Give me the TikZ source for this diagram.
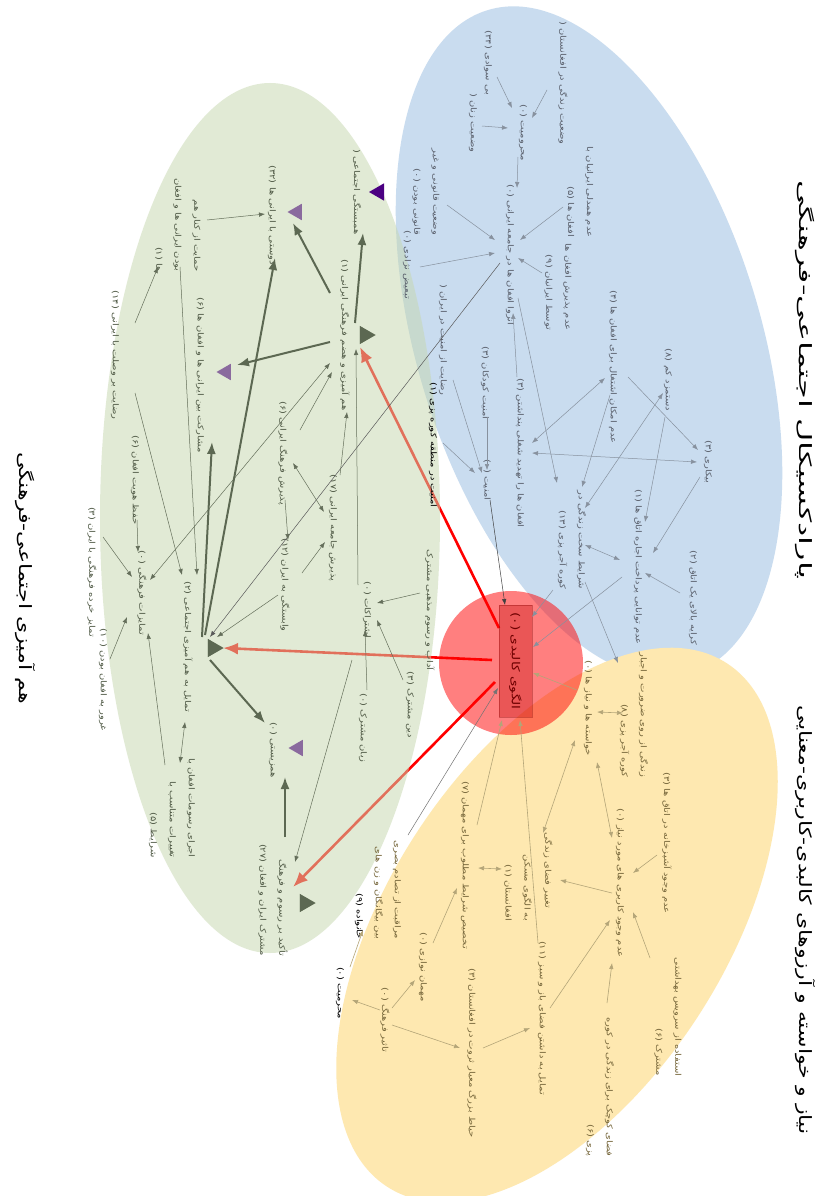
\documentclass[tikz,border=0pt]{standalone}
\usepackage{fontspec}
\newfontfamily\fa[Script=Arabic,FakeStretch=1.25]{DejaVu Sans}
\newfontfamily\fat[Script=Arabic,FakeStretch=1.3]{DejaVu Sans}
\TeXXeTstate=1
\usetikzlibrary{arrows.meta,calc,shapes.geometric}
\newcommand{\RTx}[1]{\beginR #1\endR}
\definecolor{bluefill}{RGB}{201,220,239}
\definecolor{yelfill}{RGB}{254,232,176}
\definecolor{grnfill}{RGB}{199,216,176}
\definecolor{btxt}{RGB}{90,96,108}
\definecolor{gtxt}{RGB}{80,90,70}
\definecolor{ytxt}{RGB}{118,102,58}
\definecolor{barr}{RGB}{135,145,158}
\definecolor{garr}{RGB}{100,110,90}
\definecolor{yarr}{RGB}{180,165,120}
\definecolor{thickc}{RGB}{92,104,82}
\definecolor{purp}{RGB}{138,106,158}
\definecolor{indig}{RGB}{75,0,130}
\definecolor{coretxt}{RGB}{110,0,0}
\tikzset{
 lbl/.style={rotate=-90, align=right, inner sep=1pt, font=\fa\fontsize{8}{19}\selectfont},
 tb/.style={lbl, text=btxt},
 tg/.style={lbl, text=gtxt},
 ty/.style={lbl, text=ytxt},
 tk/.style={lbl, text=black},
 ttl/.style={rotate=-90, inner sep=0pt, font=\fat\fontsize{17}{20}\selectfont, text=black},
 tipS/.style={-{Latex[length=6pt,width=4.5pt]}},
 tipD/.style={{Latex[length=6pt,width=4.5pt]}-{Latex[length=6pt,width=4.5pt]}},
 ab/.style={draw=barr, line width=0.5pt, tipS},
 abb/.style={draw=barr, line width=0.5pt, tipD},
 ag/.style={draw=garr, line width=0.5pt, tipS},
 agg/.style={draw=garr, line width=0.5pt, tipD},
 ay/.style={draw=yarr, line width=0.6pt, tipS},
 ayy/.style={draw=yarr, line width=0.6pt, tipD},
 ak/.style={draw=black!75, line width=0.5pt, tipS},
 thk/.style={draw=thickc, line width=2pt, -{Latex[length=12pt,width=9pt]}},
 redarr/.style={draw=red, line width=2.6pt, -{Latex[length=15pt,width=12pt]}},
 trg/.style={regular polygon, regular polygon sides=3, minimum size=21pt, inner sep=0pt, fill=thickc, rotate=-90},
 trp/.style={regular polygon, regular polygon sides=3, minimum size=19pt, inner sep=0pt, fill=purp, rotate=90},
}
\begin{document}
\begin{tikzpicture}[x=1pt,y=-1pt]
\useasboundingbox (0,0) rectangle (829,1196);
\fill[white] (0,0) rectangle (829,1196);
% regions
\fill[bluefill, rotate around={17:(589,342)}] (589,342) ellipse [x radius=172, y radius=347];
\fill[yelfill, rotate around={-33:(557,925)}] (557,925) ellipse [x radius=168, y radius=312];
% core
\coordinate (cc) at (511,663);
\node[minimum width=112pt, minimum height=33pt, inner sep=0pt, rotate=-90] (core) at (515.5,661) {};
% triangles
\node[trg] (g4t) at (365,335) {};
\node[trg] (g9t) at (213,648) {};
\node[trg] (g18t) at (305,903) {};
% red arrows (under green)
\draw[redarr] ($(core)+(-16.5,-33)$) -- ($(g4t)+(-5,12)$);
\draw[redarr] ($(core)+(-23.5,-1)$) -- ($(g9t)+(10,0)$);
\draw[redarr] ($(core)+(-20.5,21)$) -- ($(g18t)+(-12,-16)$);
\fill[grnfill, fill opacity=0.52] (270,518) ellipse [x radius=170, y radius=435];
\fill[red, fill opacity=0.5] (cc) circle [radius=72];
\node[draw=red!50!black, draw opacity=0.35, fill=red!75!black, fill opacity=0.32, minimum width=112pt, minimum height=33pt, inner sep=0pt, rotate=-90] at (core) {};
\node[rotate=-90, inner sep=0pt, text=coretxt, font=\fa\fontsize{11}{13}\selectfont] at (core) {\RTx{الگوی کالبدی (۰)}};
% redraw triangles over green
\node[trg] at (g4t) {};
\node[trg] at (g9t) {};
\node[trg] at (g18t) {};
\node[trp] (g2t) at (297,212) {};
\node[trp] (g5t) at (226,372) {};
\node[trp] (g17t) at (298,748) {};
\node[regular polygon, regular polygon sides=3, minimum size=20pt, inner sep=0pt, fill=indig, rotate=90] (g1t) at (379,192) {};
% titles
\node[ttl] (T1) at (805,380) {\scalebox{1.45}[1]{\RTx{پارادکسیکال اجتماعی-فرهنگی}}};
\node[ttl] (T2) at (805,920) {\RTx{نیاز و خواسته و آرزوهای کالبدی-کاربری-معنایی}};
\node[ttl] (T3) at (25,578) {\RTx{هم آمیزی اجتماعی-فرهنگی}};
% blue nodes
\node[tb] (b1) at (563,83) {\RTx{وضعیت زندگی در افغانستان (}};
\node[tb] (b2) at (488,63) {\RTx{بی سوادی (۳۴)}};
\node[tb] (b3) at (473,123) {\RTx{وضعیت زنان (}};
\node[tb] (b4) at (523,133) {\RTx{محرومیت (۰)}};
\node[tb] (b5) at (510,255) {\RTx{انزوا افغان ها در جامعه ایرانی (۰)}};
\node[tb] (b6) at (580,192) {\RTx{عدم همدلی ایرانیان با}\\\RTx{افغان ها (۵)}};
\node[tb] (b7) at (426,192) {\RTx{وضعیت قانونی و غیر}\\\RTx{قانونی بودن (۰)}};
\node[tb] (b8) at (407,265) {\RTx{تبعیض نژادی (۰)}};
\node[tb] (b9) at (558,287) {\RTx{عدم پذیرش افغان ها}\\\RTx{توسط ایرانیان (۹)}};
\node[tb] (b10) at (443,340) {\RTx{رضایت از امنیت در ایران (}};
\node[tb] (b11) at (485,383) {\RTx{امنیت کودکان (۳)}};
\node[tk] (b12) at (433,445) {\RTx{امنیت در منطقه کوره پزی (۱)}};
\node[tb] (b13) at (487,480) {\RTx{امنیت (۰)}};
\node[tb] (b14) at (520,453) {\RTx{افغان ها را تهدید شغلی پنداشتن (۳)}};
\node[tb] (b15) at (572,540) {\RTx{شرایط سخت زندگی در}\\\RTx{کوره آجر پزی (۱۳)}};
\node[tb] (b16) at (613,367) {\RTx{عدم امکان اشتغال برای افغان ها (۴)}};
\node[tb] (b17) at (668,380) {\RTx{دستمزد کم (۸)}};
\node[tb] (b18) at (708,462) {\RTx{بیکاری (۳)}};
\node[tb] (b19) at (638,567) {\RTx{عدم توانایی پرداخت اجاره اتاق ها (۱)}};
\node[tb] (b20) at (693,598) {\RTx{کرایه بالای یک اتاق (۲)}};
% yellow nodes
\node[ty] (y1) at (588,708) {\RTx{خواسته ها و نیاز ها (۰)}};
\node[ty] (y2) at (634,715) {\RTx{زندگی از روی ضرورت و اجبار}\\\RTx{کوره آجر پزی (۸)}};
\node[ty] (y3) at (620,883) {\RTx{عدم وجود کاربری های مورد نیاز (۰)}};
\node[ty] (y4) at (667,843) {\RTx{عدم وجود آشپزخانه در اتاق ها (۳)}};
\node[ty] (y5) at (668,1017) {\RTx{استفاده از سرویس بهداشتی}\\\RTx{مشترک (۶)}};
\node[ty] (y6) at (600,1087) {\RTx{فضای کوچک برای زندگی در کوره}\\\RTx{پزی (۶)}};
\node[ty] (y7) at (542,1018) {\RTx{تمایل به داشتن فضای باز و سبز (۱۱)}};
\node[ty] (y8) at (472,1053) {\RTx{حیاط بزرگ معیار ثروت در افغانستان (۳)}};
\node[ty] (y9) at (385,1020) {\RTx{تاثیر فرهنگ (۰)}};
\node[tk] (y10) at (340,993) {\RTx{محرمیت (۰)}};
\node[ty] (y11) at (423,967) {\RTx{مهمان نوازی (۰)}};
\node[ty] (y12) at (465,865) {\RTx{تخصیص شرایط مطلوب برای مهمان (۷)}};
\node[ty] (y13) at (518,888) {\RTx{به الگوی مسکن}\\\RTx{افغانستان (۱)}};
\node[ty] (y14) at (548,870) {\RTx{تغییر فضای زندگی}};
\node[ty] (y15) at (378,890) {\RTx{مراقبت از تصادم بصری}\\\RTx{بین بیگانگان و زن های}\\\textcolor{black}{\RTx{خانواده (۹)}}};
% green nodes
\node[tg] (g1) at (357,192) {\RTx{همبستگی اجتماعی (}};
\node[tg] (g2) at (272,215) {\RTx{دوستی با ایرانی ها (۳۲)}};
\node[tg] (g3) at (178,225) {\RTx{حمایت از کنار هم}\\\RTx{بودن ایرانی ها و افغان}\\\RTx{ها (۱)}};
\node[tg] (g4) at (345,335) {\RTx{هم آمیزی و هضم فرهنگی ایرانی (۱)}};
\node[tg] (g5) at (200,375) {\RTx{مشارکت بین ایرانی ها و افغان ها (۶)}};
\node[tg] (g6) at (115,355) {\RTx{رضایت بر وصلت با ایرانی (۱۴)}};
\node[tg] (g7) at (135,480) {\RTx{حفظ هویت افغان (۶)}};
\node[tg] (g8) at (142,593) {\RTx{تمایزات فرهنگی (۰)}};
\node[tg] (g9) at (188,647) {\RTx{تمایل به هم آمیزی اجتماعی (۲)}};
\node[tg] (g10) at (283,453) {\RTx{پذیرش فرهنگ ایرانی (۶)}};
\node[tg] (g11) at (333,528) {\RTx{پذیرش جامعه ایرانی (۱۷)}};
\node[tg] (g12) at (285,585) {\RTx{وابستگی به ایران (۱۲)}};
\node[tg] (g13) at (367,610) {\RTx{اشتراکات (۰)}};
\node[tg] (g14) at (430,610) {\RTx{آداب و رسوم مذهبی مشترک}};
\node[tg] (g15) at (410,705) {\RTx{دین مشترک (۳)}};
\node[tg] (g16) at (363,728) {\RTx{زبان مشترک (۰)}};
\node[tg] (g17) at (273,750) {\RTx{همزیستی (۰)}};
\node[tg] (g18) at (273,900) {\RTx{تأکید بر رسوم و فرهنگ}\\\RTx{مشترک ایران و افغان (۲۷)}};
\node[tg] (g19) at (172,808) {\RTx{اجرای رسومات افغان با}\\\RTx{تغییرات متناسب با}\\\RTx{شرایط (۵)}};
\node[tg] (g21) at (103,680) {\RTx{غرور به افغان بودن (۱۰)}};
\node[tg] (g22) at (92,572) {\RTx{تمایز خرده فرهنگی با ایران (۳)}};
% blue edges
\draw[ab] ($(b1)+(-16,7)$) -- ($(b4)+(9,-15)$);
\draw[ab] ($(b2)+(9,14)$) -- ($(b4)+(-11,-25)$);
\draw[ab] ($(b3)+(9,3)$) -- ($(b4)+(-15,-5)$);
\draw[ab] ($(b4)+(-5,24)$) -- ($(b5)+(7,-67)$);
\draw[ab] ($(b6)+(-17,15)$) -- ($(b5)+(10,-15)$);
\draw[ab] ($(b7)+(21,13)$) -- ($(b5)+(-15,-15)$);
\draw[ab] ($(b8)+(13,2)$) -- ($(b5)+(-15,-2)$);
\draw[ab] ($(b9)+(-16,-14)$) -- ($(b5)+(8,3)$);
\draw[ab] ($(b14)+(-3,-76)$) -- ($(b5)+(3,58)$);
\draw[ab] ($(b5)+(8,43)$) -- ($(b15)+(-15,-57)$);
\draw[ab] ($(b10)+(10,40)$) -- ($(b13)+(-5,-7)$);
\draw[ab] ($(b11)+(2,34)$) -- ($(b13)+(0,-10)$);
\draw[ab] ($(b12)+(10,-2)$) -- ($(b13)+(-12,-7)$);
\draw[ak] ($(b13)+(3,20)$) -- ($(core)+(-10.5,-56)$);
\draw[abb] ($(b14)+(12,0)$) -- ($(b18)+(-11,0)$);
\draw[abb] ($(b16)+(-8,11)$) -- ($(b14)+(12,-10)$);
\draw[ab] ($(b16)+(15,10)$) -- ($(b18)+(-10,-12)$);
\draw[ab] ($(b16)+(-3,28)$) -- ($(b15)+(10,-53)$);
\draw[abb] ($(b17)+(-5,13)$) -- ($(b15)+(13,-32)$);
\draw[ab] ($(b17)+(-3,37)$) -- ($(b19)+(7,-45)$);
\draw[ab] ($(b18)+(-8,15)$) -- ($(b19)+(15,-14)$);
\draw[abb] ($(b15)+(13,5)$) -- ($(b19)+(-18,-7)$);
\draw[ab] ($(b20)+(-13,-5)$) -- ($(b19)+(7,6)$);
\draw[ab] ($(b19)+(-16,10)$) -- ($(core)+(17.5,-14)$);
\draw[ab] ($(b15)+(-19,50)$) -- ($(core)+(16.5,-44)$);
\draw[ab] ($(b15)+(13,42)$) -- ($(y2)+(-16,-52)$);
\draw[ak, draw=black!65] ($(b5)+(-10,8)$) -- ($(g9)+(22,-10)$);
% yellow edges
\draw[ay] ($(y1)+(-11,-18)$) -- ($(core)+(17.5,12)$);
\draw[ayy] ($(y1)+(9,4)$) -- ($(y2)+(-11,-2)$);
\draw[ayy] ($(y1)+(9,54)$) -- ($(y3)+(-8,-45)$);
\draw[ayy] ($(y1)+(-13,32)$) -- ($(y14)+(-5,-37)$);
\draw[ay] ($(y4)+(-10,12)$) -- ($(y3)+(13,-10)$);
\draw[ay] ($(y5)+(-18,-59)$) -- ($(y3)+(13,29)$);
\draw[ay] ($(y6)+(7,-84)$) -- ($(y3)+(-8,80)$);
\draw[ay] ($(y7)+(8,-10)$) -- ($(y3)+(-10,37)$);
\draw[ay] ($(y3)+(-8,10)$) -- ($(y14)+(12,10)$);
\draw[ay] ($(y8)+(11,-5)$) -- ($(y7)+(-12,10)$);
\draw[ay] ($(y9)+(7,5)$) -- ($(y8)+(-12,-5)$);
\draw[ay] ($(y9)+(-5,-10)$) -- ($(y10)+(12,7)$);
\draw[ay] ($(y9)+(7,-12)$) -- ($(y11)+(-8,13)$);
\draw[ay] ($(y11)+(10,-24)$) -- ($(y12)+(-8,23)$);
\draw[ayy] ($(y12)+(13,3)$) -- ($(y13)+(-16,-19)$);
\draw[ay] ($(y12)+(12,-40)$) -- ($(core)+(-13.5,59)$);
\draw[ay] ($(y7)+(-4,-75)$) -- ($(core)+(4.5,59)$);
\draw[ak, draw=black!55] ($(y15)+(30,-55)$) -- ($(core)+(-17.5,27)$);
\draw[ay] ($(y10)+(10,-26)$) -- ($(y15)+(-15,40)$);
% green thin edges
\draw[ag] ($(g3)+(29,-5)$) -- ($(g2)+(-7,-1)$);
\draw[ag] ($(g6)+(20,-32)$) -- ($(g3)+(-20,42)$);
\draw[ag] ($(g3)+(2,42)$) -- ($(g9)+(9,-72)$);
\draw[ag] ($(g6)+(20,38)$) -- ($(g9)+(-6,-72)$);
\draw[ag] ($(g7)+(2,40)$) -- ($(g8)+(-4,-41)$);
\draw[ag] ($(g22)+(11,-35)$) -- ($(g8)+(-10,-16)$);
\draw[ag] ($(g21)+(7,-21)$) -- ($(g8)+(-15,24)$);
\draw[ag] ($(g19)+(-7,-43)$) -- ($(g8)+(6,40)$);
\draw[agg] ($(g9)+(-3,75)$) -- ($(g19)+(8,-45)$);
\draw[agg] ($(g10)+(10,10)$) -- ($(g11)+(-9,-16)$);
\draw[ag] ($(g11)+(7,-53)$) -- ($(g4)+(2,77)$);
\draw[ag] ($(g10)+(2,47)$) -- ($(g12)+(3,-45)$);
\draw[ag] ($(g12)+(17,-12)$) -- ($(g11)+(-8,14)$);
\draw[ag] ($(g12)+(-7,10)$) -- ($(g9)+(29,-10)$);
\draw[ag] ($(g10)+(17,-23)$) -- ($(g4)+(-13,37)$);
\draw[agg] ($(g8)+(8,-13)$) -- ($(g4)+(-15,28)$);
\draw[ag] ($(g13)+(-9,-25)$) -- ($(g4)+(11,14)$);
\draw[ag] ($(g14)+(-10,-17)$) -- ($(g13)+(10,-7)$);
\draw[ag] ($(g15)+(-7,-25)$) -- ($(g13)+(10,10)$);
\draw[ag] ($(g16)+(4,-38)$) -- ($(g13)+(-2,20)$);
\draw[ag] ($(g13)+(-15,50)$) -- ($(g18)+(22,-38)$);
% thick edges
\draw[thk] ($(g4)+(10,-12)$) -- ($(g1)+(6,41)$);
\draw[thk] ($(g4)+(-15,-42)$) -- ($(g2)+(21,8)$);
\draw[thk] ($(g4)+(-15,7)$) -- ($(g5t)+(11,-7)$);
\draw[thk] ($(g9t)+(-8,-13)$) -- ($(g2)+(3,43)$);
\draw[thk] ($(g9t)+(-11,-11)$) -- ($(g5)+(12,67)$);
\draw[thk] ($(g9t)+(-3,12)$) -- ($(g17)+(-8,-27)$);
\draw[thk] ($(g18)+(12,-63)$) -- ($(g17)+(12,27)$);
\end{tikzpicture}
\end{document}
